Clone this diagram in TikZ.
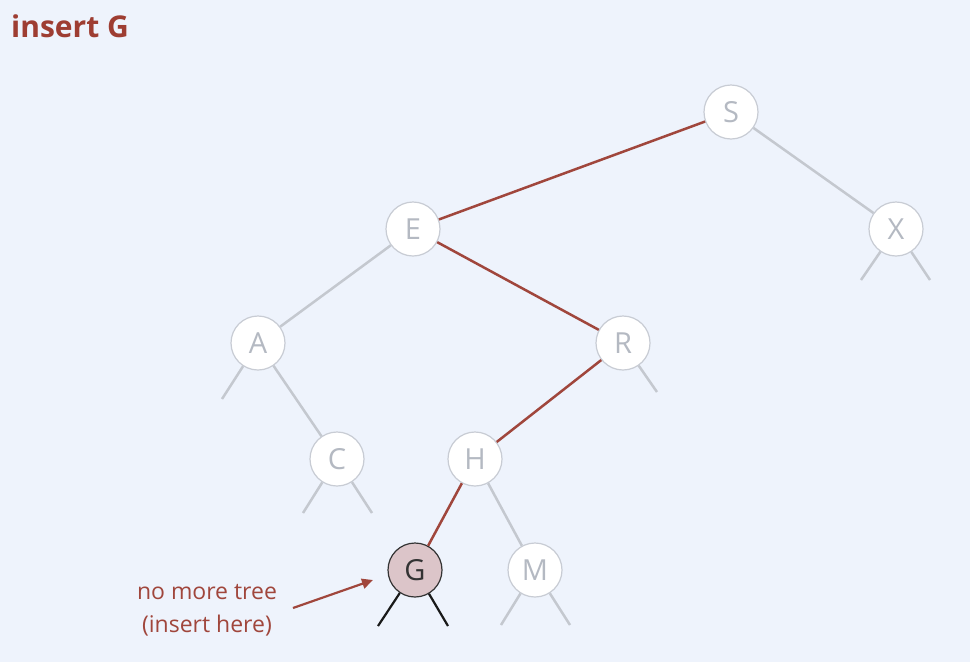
\documentclass[tikz,border=0pt]{standalone}
\usepackage{fontspec}
\setmainfont{Open Sans}
\usetikzlibrary{calc,arrows.meta}
\definecolor{bg}{HTML}{EEF3FC}
\definecolor{nodeline}{HTML}{C8CCD4}
\definecolor{nodetext}{HTML}{B4B9C2}
\definecolor{edgegray}{HTML}{C4C8CF}
\definecolor{edgered}{HTML}{A0463C}
\definecolor{gfill}{HTML}{DCC5C9}
\definecolor{titlered}{HTML}{9E3D32}
\tikzset{
  bstnode/.style={circle, draw=nodeline, line width=1.2pt, fill=white, minimum size=54pt, inner sep=0pt, text=nodetext, font=\fontsize{29}{32}\selectfont},
  hitnode/.style={bstnode, draw=black!80, fill=gfill, text=black!80},
  grayedge/.style={draw=edgegray, line width=2.5pt},
  rededge/.style={draw=edgered, line width=2.5pt},
  blackstub/.style={draw=black!90, line width=2.2pt},
}
\begin{document}
\begin{tikzpicture}[x=1pt,y=-1pt]
\fill[bg] (0,0) rectangle (970,662);
\useasboundingbox (0,0) rectangle (970,662);
\node[anchor=west, inner sep=0pt, text=titlered, font=\fontsize{30}{34}\selectfont\bfseries] (title) at (11,26) {insert G};

\node[bstnode] (S) at (731,112) {S};
\node[bstnode] (E) at (413,229) {E};
\node[bstnode] (X) at (896,229) {X};
\node[bstnode] (A) at (258,343) {A};
\node[bstnode] (R) at (623,343) {R};
\node[bstnode] (C) at (337,459) {C};
\node[bstnode] (H) at (475,459) {H};
\node[bstnode] (M) at (535,570) {M};
\node[hitnode] (G) at (415,570) {G};

% stub end points
\coordinate (Xl) at (861,280);
\coordinate (Xr) at (930,280);
\coordinate (Al) at (222,399);
\coordinate (Rr) at (657,392);
\coordinate (Cl) at (303,513);
\coordinate (Cr) at (372,513);
\coordinate (Ml) at (501,625);
\coordinate (Mr) at (570,625);
\coordinate (Gl) at (378,626);
\coordinate (Gr) at (448,626);

\path[grayedge] (S) -- (X);
\path[grayedge] (E) -- (A);
\path[grayedge] (A) -- (C);
\path[grayedge] (H) -- (M);
\path[rededge] (S) -- (E);
\path[rededge] (E) -- (R);
\path[rededge] (R) -- (H);
\path[rededge] (H) -- (G);
\path[grayedge] (X) -- (Xl);
\path[grayedge] (X) -- (Xr);
\path[grayedge] (A) -- (Al);
\path[grayedge] (R) -- (Rr);
\path[grayedge] (C) -- (Cl);
\path[grayedge] (C) -- (Cr);
\path[grayedge] (M) -- (Ml);
\path[grayedge] (M) -- (Mr);
\path[blackstub] (G) -- (Gl);
\path[blackstub] (G) -- (Gr);

\node[align=center, text=edgered, font=\fontsize{23}{33}\selectfont] (lbl) at (207,610) {no more tree\\(insert here)};
\coordinate (arrstart) at (293,608);
\coordinate (arrend) at (373,580);
\draw[edgered, line width=2.2pt, -{Triangle[length=11pt,width=10pt]}] (arrstart) -- (arrend);
\end{tikzpicture}
\end{document}
